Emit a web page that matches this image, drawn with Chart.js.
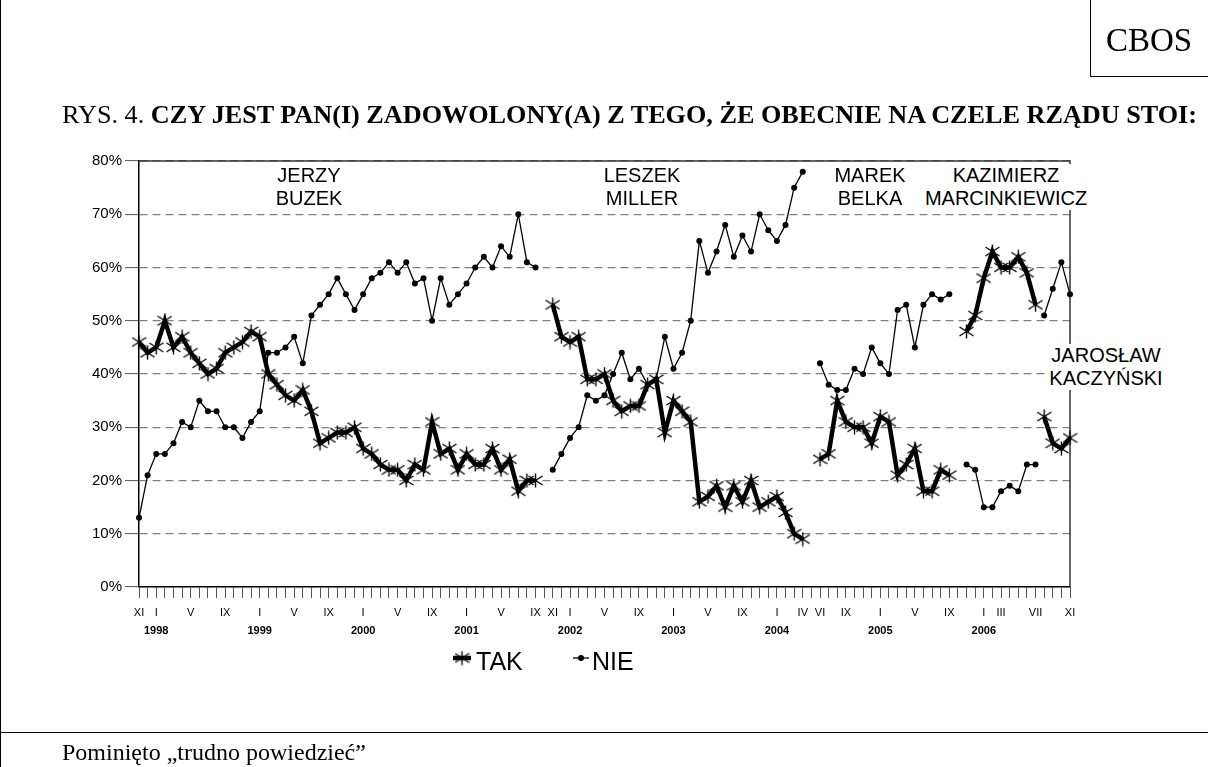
<!DOCTYPE html>
<html lang="pl">
<head>
    <meta charset="UTF-8">
    <title>CBOS - Rys. 4</title>
    <script src="https://cdn.jsdelivr.net/npm/chart.js"></script>
    <style>
        body { margin: 0; background: #fff; }
        .page { position: relative; width: 1208px; height: 767px; overflow: hidden; font-family: "Liberation Serif", "Times New Roman", serif; color: #000; }
        .line { position: absolute; background: #000; }
        #chart { position: absolute; left: 0; top: 0; }
        .title { position: absolute; left: 62px; top: 100px; font-size: 26.2px; line-height: 30px; white-space: nowrap; }
        .cbos { position: absolute; left: 1090px; top: 0; width: 118px; height: 76px; line-height: 80px; text-align: center; font-size: 33px; }
        .note { position: absolute; left: 62px; top: 738px; font-size: 24px; line-height: 28px; white-space: nowrap; }
        .gov { position: absolute; font-family: "Liberation Sans", Arial, sans-serif; font-size: 20px; line-height: 23px; text-align: center; background: #fff; white-space: nowrap; transform: translateX(-50%); }
    </style>
</head>
<body>
<div class="page">
    <canvas id="chart" width="1208" height="767"></canvas>

    <!-- frame -->
    <div class="line" style="left:0;top:0;width:1px;height:767px"></div>
    <div class="line" style="left:0;top:732px;width:1208px;height:1px"></div>
    <div class="line" style="left:1090px;top:0;width:1px;height:76px"></div>
    <div class="line" style="left:1090px;top:76px;width:118px;height:1px"></div>

    <div class="cbos">CBOS</div>
    <div class="title">RYS. 4. <b>CZY JEST PAN(I) ZADOWOLONY(A) Z TEGO, ŻE OBECNIE NA CZELE RZĄDU STOI:</b></div>

    <!-- government labels -->
    <div class="gov" style="left:309px;top:164px">JERZY<br>BUZEK</div>
    <div class="gov" style="left:642px;top:164px">LESZEK<br>MILLER</div>
    <div class="gov" style="left:870px;top:164px">MAREK<br>BELKA</div>
    <div class="gov" style="left:1006px;top:164px;padding:0 2px">KAZIMIERZ<br>MARCINKIEWICZ</div>
    <div class="gov" style="left:1106px;top:344px;padding:0 4px">JAROSŁAW<br>KACZYŃSKI</div>

    <div class="note">Pominięto „trudno powiedzieć”</div>
</div>

<script>
    // months XI 1997 .. XI 2006, one slot per month
    const romanMonths = ['I', 'II', 'III', 'IV', 'V', 'VI', 'VII', 'VIII', 'IX', 'X', 'XI', 'XII'];
    const labels = [];
    for (let i = 0; i < 109; i++) {
        const m = (10 + i) % 12;
        const y = 1997 + Math.floor((10 + i) / 12);
        labels.push(romanMonths[m] + ' ' + y);
    }
    // which month ticks get a label
    const shownMonths = [0, 2, 6, 10, 14, 18, 22, 26, 30, 34, 38, 42, 46, 48, 50, 54, 58, 62, 66, 70, 74, 77, 79, 82, 86, 90, 94, 98, 100, 104, 108];
    const yTicks = [0, 10, 20, 30, 40, 50, 60, 70, 80];

    // government periods: index of first month in labels
    const govStart = [0, 48, 79, 96, 105];

    // TAK / NIE per government
    const takBuzek = [46, 44, 45, 50, 45, 47, 44, 42, 40, 41, 44, 45, 46, 48, 47,
        40, 38, 36, 35, 37, 33, 27, 28, 29, 29, 30, 26, 25, 23, 22, 22, 20, 23, 22, 31, 25, 26, 22, 25, 23, 23, 26, 22, 24, 18, 20, 20];
    const nieBuzek = [13, 21, 25, 25, 27, 31, 30, 35, 33, 33, 30, 30, 28, 31, 33,
        44, 44, 45, 47, 42, 51, 53, 55, 58, 55, 52, 55, 58, 59, 61, 59, 61, 57, 58, 50, 58, 53, 55, 57, 60, 62, 60, 64, 62, 70, 61, 60];
    const takMiller = [53, 47, 46, 47, 39, 39, 40, 35, 33, 34, 34, 38, 39, 29, 35, 33, 31, 16, 17, 19, 15, 19, 16, 20, 15, 16, 17, 14, 10, 9];
    const nieMiller = [22, 25, 28, 30, 36, 35, 36, 40, 44, 39, 41, 38, 39, 47, 41, 44, 50, 65, 59, 63, 68, 62, 66, 63, 70, 67, 65, 68, 75, 78];
    const takBelka = [24, 25, 35, 31, 30, 30, 27, 32, 31, 21, 23, 26, 18, 18, 22, 21];
    const nieBelka = [42, 38, 37, 37, 41, 40, 45, 42, 40, 52, 53, 45, 53, 55, 54, 55];
    const takMarc = [48, 51, 58, 63, 60, 60, 62, 59, 53];
    const nieMarc = [23, 22, 15, 15, 18, 19, 18, 23, 23];
    const takKacz = [32, 27, 26, 28];
    const nieKacz = [51, 56, 61, 55];

    const takParts = [takBuzek, takMiller, takBelka, takMarc, takKacz];
    const nieParts = [nieBuzek, nieMiller, nieBelka, nieMarc, nieKacz];

    function place(values, start) {
        const arr = new Array(labels.length).fill(null);
        values.forEach((v, k) => { arr[start + k] = v; });
        return arr;
    }

    // excel-like star marker: vertical bar + X
    function starMarker() {
        const c = document.createElement('canvas');
        c.width = 15; c.height = 15;
        const g = c.getContext('2d');
        g.strokeStyle = '#000';
        g.lineWidth = 1.4;
        g.beginPath();
        g.moveTo(7.5, 0.5); g.lineTo(7.5, 14.5);
        g.moveTo(0.5, 3); g.lineTo(14.5, 12);
        g.moveTo(0.5, 12); g.lineTo(14.5, 3);
        g.stroke();
        return c;
    }
    const star = starMarker();

    const takStyle = {
        borderColor: '#000', borderWidth: 4.5, pointStyle: star, pointRadius: 7,
        tension: 0, spanGaps: false
    };
    const nieStyle = {
        borderColor: '#000', borderWidth: 1.3, pointStyle: 'circle', pointRadius: 3,
        pointBackgroundColor: '#000', pointBorderWidth: 0, tension: 0, spanGaps: false
    };

    const datasets = [];
    govStart.forEach((s, g) => {
        datasets.push(Object.assign({ label: 'NIE', data: place(nieParts[g], s) }, nieStyle));
        datasets.push(Object.assign({ label: 'TAK', data: place(takParts[g], s) }, takStyle));
    });

    // plot frame (top + right) and hand drawn legend
    const extras = {
        id: 'extras',
        beforeDatasetsDraw(chart) {
            const { ctx, chartArea: a } = chart;
            ctx.save();
            ctx.strokeStyle = '#333';
            ctx.lineWidth = 1.5;
            ctx.beginPath();
            ctx.moveTo(a.left, a.top);
            ctx.lineTo(a.right, a.top);
            ctx.lineTo(a.right, a.bottom);
            ctx.stroke();
            ctx.restore();
        },
        afterDraw(chart) {
            const ctx = chart.ctx;
            ctx.save();
            ctx.strokeStyle = '#000';
            ctx.fillStyle = '#000';
            ctx.lineWidth = 4.5;
            ctx.beginPath(); ctx.moveTo(453, 658); ctx.lineTo(471, 658); ctx.stroke();
            ctx.drawImage(star, 462 - 7.5, 658 - 7.5);
            ctx.lineWidth = 1.3;
            ctx.beginPath(); ctx.moveTo(573, 658); ctx.lineTo(589, 658); ctx.stroke();
            ctx.beginPath(); ctx.arc(581, 658, 3, 0, Math.PI * 2); ctx.fill();
            ctx.font = '25px "Liberation Sans", Arial, sans-serif';
            ctx.textBaseline = 'middle';
            ctx.fillText('TAK', 476, 663);
            ctx.fillText('NIE', 592, 663);
            ctx.restore();
        }
    };

    new Chart(document.getElementById('chart'), {
        type: 'line',
        data: { labels: labels, datasets: datasets },
        options: {
            responsive: false,
            animation: false,
            layout: { padding: { top: 161, right: 138, bottom: 118, left: 20 } },
            plugins: { legend: { display: false }, tooltip: { enabled: false } },
            scales: {
                x: {
                    type: 'category',
                    offset: false,
                    weight: 0,
                    grid: { drawOnChartArea: false, tickLength: 11, tickColor: '#555', tickWidth: 1 },
                    border: { color: '#000', width: 1.5 },
                    ticks: {
                        autoSkip: false, maxRotation: 0, padding: 8,
                        font: { family: '"Liberation Sans", Arial, sans-serif', size: 11 }, color: '#000',
                        callback: (v, i) => shownMonths.includes(i) ? labels[i].split(' ')[0] : ''
                    },
                    afterFit: s => { s.height = 32; }
                },
                x2: {
                    type: 'category',
                    position: 'bottom',
                    offset: false,
                    weight: 1,
                    grid: { display: false, drawTicks: false },
                    border: { display: false },
                    ticks: {
                        autoSkip: false, maxRotation: 0, padding: 5,
                        font: { family: '"Liberation Sans", Arial, sans-serif', size: 11, weight: 'bold' }, color: '#000',
                        callback: (v, i) => labels[i].startsWith('I ') ? labels[i].split(' ')[1] : ''
                    },
                    afterFit: s => { s.height = 30; }
                },
                y: {
                    min: 0, max: 80,
                    afterBuildTicks: s => { s.ticks = yTicks.map(v => ({ value: v })); },
                    grid: { color: '#808080', lineWidth: 1.2, tickLength: 14, tickColor: '#555', tickWidth: 1 },
                    border: { color: '#000', width: 1.5, dash: [8, 5] },
                    ticks: {
                        padding: 3,
                        font: { family: '"Liberation Sans", Arial, sans-serif', size: 15 }, color: '#000',
                        callback: v => v + '%'
                    },
                    afterFit: s => { s.width = 119; }
                }
            }
        },
        plugins: [extras]
    });
</script>
</body>
</html>
